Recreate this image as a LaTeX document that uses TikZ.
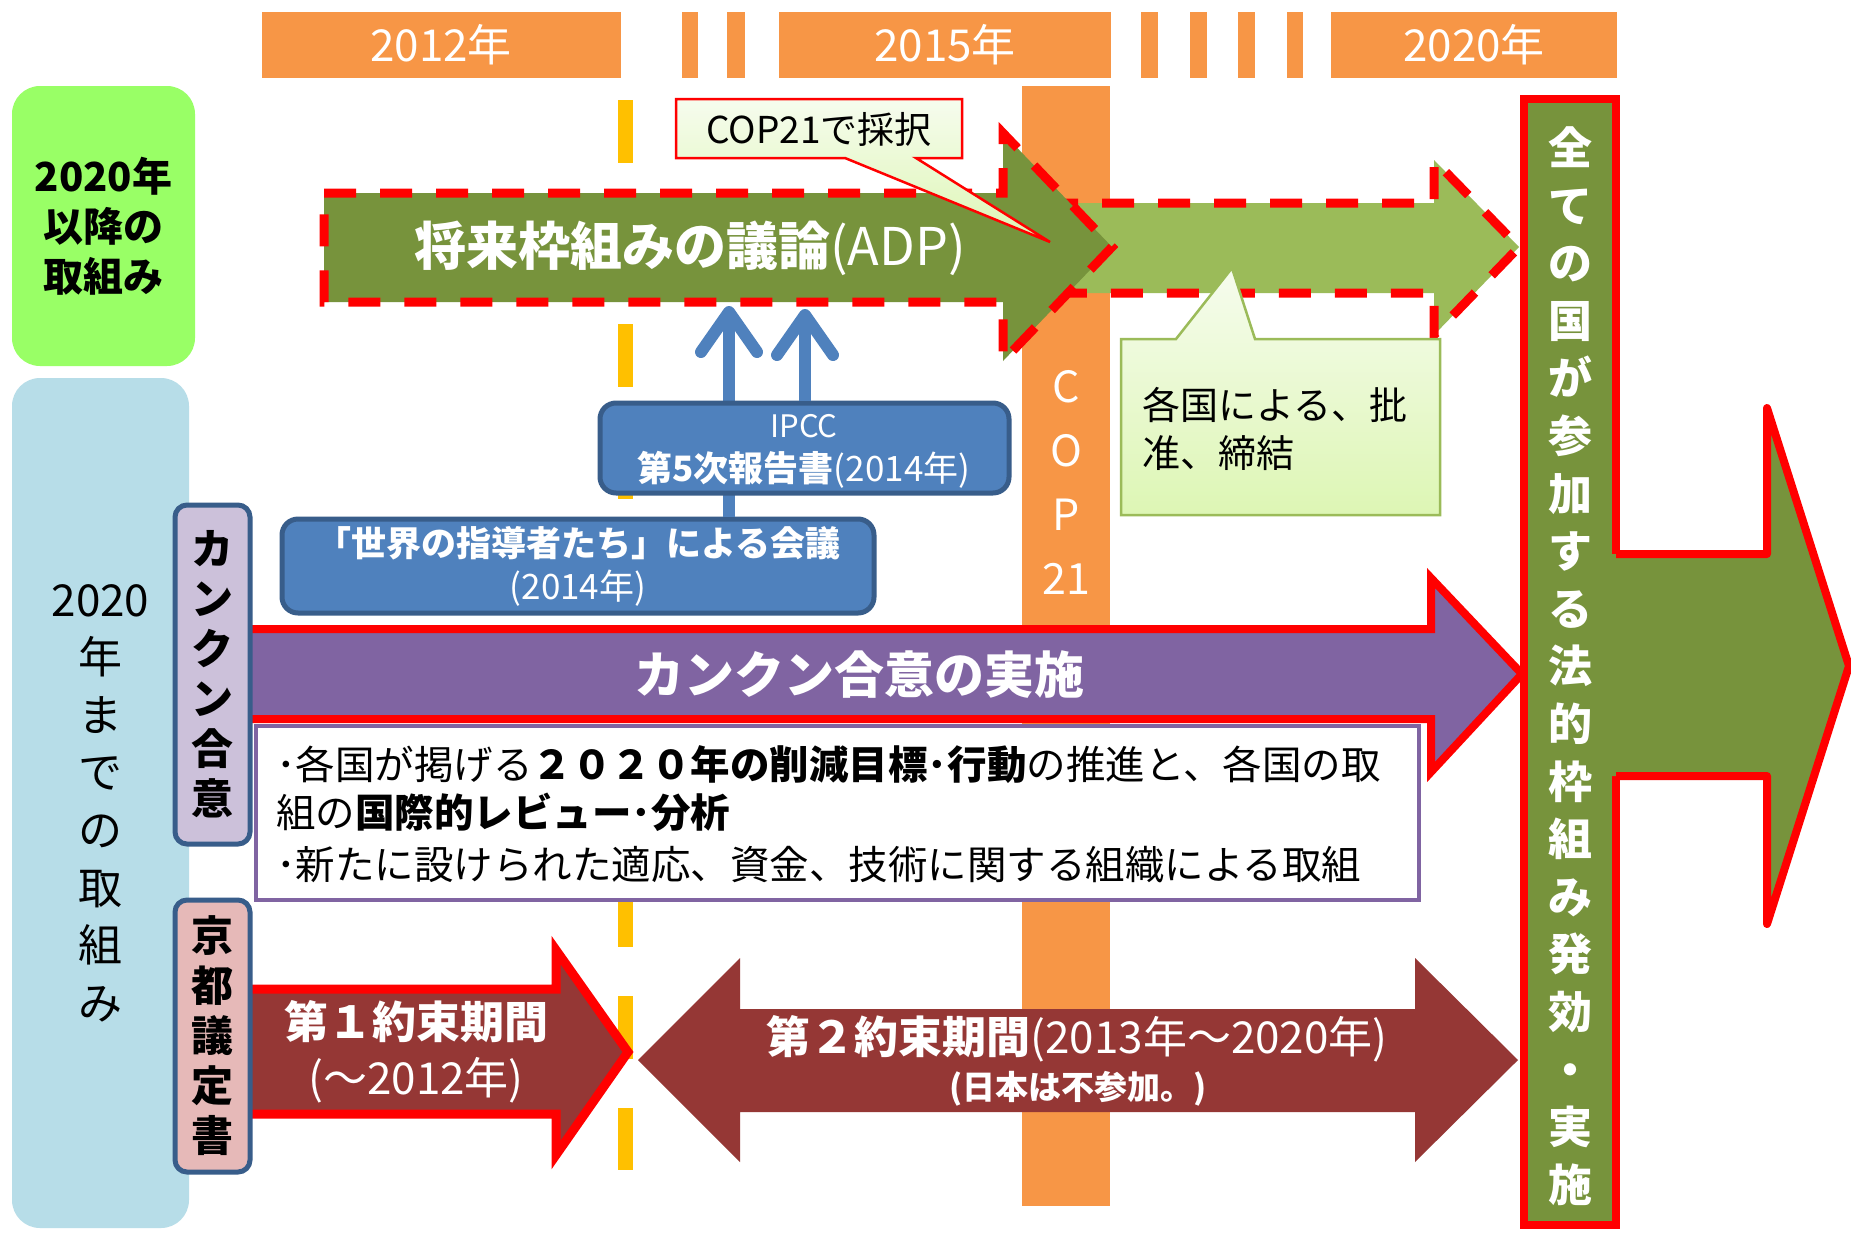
\documentclass[tikz,border=0pt]{standalone}
\usepackage{fontspec}
\setmainfont{Noto Sans CJK JP}
\usetikzlibrary{arrows.meta}
\newcommand\fsz[2]{\fontsize{#1}{#2}\selectfont}
\definecolor{orng}{HTML}{F79646}
\definecolor{ylw}{HTML}{FFC000}
\definecolor{lgrn}{HTML}{99FF66}
\definecolor{lblu}{HTML}{B7DDE8}
\definecolor{dgrn}{HTML}{77933C}
\definecolor{mgrn}{HTML}{9BBB59}
\definecolor{purp}{HTML}{8064A2}
\definecolor{brwn}{HTML}{953735}
\definecolor{bluf}{HTML}{4F81BD}
\definecolor{blud}{HTML}{385D8A}
\definecolor{lav}{HTML}{CCC1DA}
\definecolor{pnk}{HTML}{E6B9B8}
\definecolor{redc}{HTML}{FF0000}
\definecolor{callA}{HTML}{F6FCEE}
\definecolor{callB}{HTML}{DDF6B4}
\tikzset{
  yearbar/.style={fill=orng},
  yeartxt/.style={text=white, font=\fsz{44}{50}},
  sidebox/.style={rounded corners=28, inner sep=0pt},
  tagbox/.style={draw=blud, line width=5, rounded corners=12, minimum width=75, inner sep=0pt, align=center, font=\bfseries\fsz{42}{50}},
  bluebox/.style={draw=blud, fill=bluf, line width=5, rounded corners=16, inner sep=0pt, text=white, align=center},
  bluearr/.style={draw=bluf, line width=12, -{Straight Barb[length=40pt,width=56pt,round]}},
  redline/.style={draw=redc, line width=8, line join=miter},
  reddash/.style={draw=redc, line width=9, dash pattern=on 32pt off 24pt},
  wtxt/.style={text=white, inner sep=0pt},
  btxt/.style={text=black, inner sep=0pt},
}
\begin{document}
\begin{tikzpicture}[x=1pt,y=-1pt]
\useasboundingbox (0,0) rectangle (1851,1232);
\clip (0,0) rectangle (1851,1232);
\fill[white] (0,0) rectangle (1851,1232);

% timeline guides
\coordinate (ytop) at (625,100);
\coordinate (ybot) at (625,1170);
\draw[ylw, line width=15, dash pattern=on 63pt off 49pt] (ytop) -- (ybot);
\fill[orng] (1022,86) rectangle (1110,1206);

% year bars
\fill[yearbar] (262,12) rectangle (621,78);
\fill[yearbar] (682,12) rectangle (698,78);
\fill[yearbar] (727,12) rectangle (745,78);
\fill[yearbar] (779,12) rectangle (1111,78);
\fill[yearbar] (1141,12) rectangle (1158,78);
\fill[yearbar] (1190,12) rectangle (1207,78);
\fill[yearbar] (1238,12) rectangle (1255,78);
\fill[yearbar] (1287,12) rectangle (1303,78);
\fill[yearbar] (1331,12) rectangle (1617,78);
\node[yeartxt] (y2012) at (441,45) {2012年};
\node[yeartxt] (y2015) at (945,45) {2015年};
\node[yeartxt] (y2020) at (1474,45) {2020年};

% left category boxes
\node[sidebox, fill=lgrn, minimum width=183, minimum height=280, align=center, font=\bfseries\fsz{40}{50}] (post) at (103.5,226) {2020年\\以降の\\取組み};
\node[sidebox, fill=lblu, minimum width=177, minimum height=850, align=center, font=\fsz{44}{57.6}] (pre) at (100.5,803) {2020\\年\\ま\\で\\の\\取\\組\\み};

% ratification arrow (light green)
\fill[mgrn] (990,203) -- (1434,203) -- (1434,160) -- (1519,247) -- (1434,335) -- (1434,293) -- (990,293) -- cycle;
\draw[reddash] (990,203) -- (1434,203) -- (1434,160) -- (1519,247) -- (1434,335) -- (1434,293) -- (990,293);

% ADP arrow (dark green)
\fill[dgrn] (324,193) -- (1003,193) -- (1003,133) -- (1112,247) -- (1003,361) -- (1003,302) -- (324,302) -- cycle;
\draw[reddash] (324,193) -- (1003,193) -- (1003,133) -- (1112,247) -- (1003,361) -- (1003,302) -- (324,302) -- cycle;
\node[wtxt, font=\fsz{52}{60}] (adp) at (690,248) {{\bfseries 将来枠組みの議論}(ADP)};
\coordinate (adpA) at (729,306);
\coordinate (adpB) at (805,309);

% callout COP21
\draw[redc, line width=2.5, top color=callA, bottom color=callB]
  (676,99) -- (962,99) -- (962,158) -- (916,158) -- (1050,242) -- (845,158) -- (676,158) -- cycle;
\node[btxt, font=\fsz{37}{44}] (cop21call) at (819,129) {COP21で採択};

% callout ratification
\draw[mgrn, line width=2.5, top color=callA, bottom color=callB]
  (1121,339) -- (1176,339) -- (1232,268) -- (1255,339) -- (1440,339) -- (1440,515) -- (1121,515) -- cycle;
\node[btxt, anchor=west, align=left, font=\fsz{38}{48}] (ratify) at (1142,429) {各国による、批\\准、締結};

% COP21 vertical label
\node[wtxt, align=center, font=\fsz{43}{64}] (cop21) at (1066,482) {C\\O\\P\\21};

% blue boxes and arrows
\node[bluebox, minimum width=592, minimum height=94, font=\bfseries\fsz{35}{43}] (sekai) at (578,566) {「世界の指導者たち」による会議\\{\mdseries (2014年)}};
\draw[bluearr] (sekai.north -| adpA) -- (adpA);
\node[bluebox, minimum width=409, minimum height=90] (ipcc) at (804.5,448) {};
\draw[bluearr] (ipcc.north -| adpB) -- (adpB);
\node[wtxt, font=\fsz{31}{36}] (ipcc1) at (804,426) {IPCC};
\node[wtxt, font=\fsz{35}{40}] (ipcc2) at (804,470) {{\bfseries 第5次報告書}(2014年)};

% Cancun implementation arrow
\filldraw[redline, fill=purp] (240,629) -- (1431,629) -- (1431,578) -- (1522,674) -- (1431,772) -- (1431,719) -- (240,719) -- cycle;
\node[wtxt, font=\bfseries\fsz{50}{58}] (cancunimpl) at (859,675) {カンクン合意の実施};

% description box
\node[draw=purp, line width=4, fill=white, minimum width=1163, minimum height=174, inner sep=0pt] (desc) at (837.5,813) {};
\node[btxt, anchor=west, font=\fsz{39.5}{46}] (d1) at (276,765) {･各国が掲げる{\bfseries ２０２０年の削減目標･行動}の推進と、各国の取};
\node[btxt, anchor=west, font=\fsz{39.5}{46}] (d2) at (276,812) {組の{\bfseries 国際的レビュー･分析}};
\node[btxt, anchor=west, font=\fsz{39.5}{46}] (d3) at (276,865) {･新たに設けられた適応、資金、技術に関する組織による取組};

% Kyoto commitment periods
\filldraw[redline, line width=9, fill=brwn] (240,989) -- (556,989) -- (556,950) -- (628,1052) -- (556,1155) -- (556,1114) -- (240,1114) -- cycle;
\node[wtxt, font=\bfseries\fsz{44}{50}] (cp1) at (416,1022) {第１約束期間};
\node[wtxt, font=\fsz{44}{50}] (cp1y) at (416,1080) {(～2012年)};
\fill[brwn] (638,1060) -- (740,958) -- (740,1009) -- (1415,1009) -- (1415,958) -- (1518,1060) -- (1415,1162) -- (1415,1112) -- (740,1112) -- (740,1162) -- cycle;
\node[wtxt, font=\fsz{44}{50}] (cp2) at (1077,1039) {{\bfseries 第２約束期間}(2013年～2020年)};
\node[wtxt, font=\bfseries\fsz{33}{40}] (cp2n) at (1078,1089) {(日本は不参加。)};

% tag boxes
\node[tagbox, fill=lav, minimum height=339] (cancun) at (212.5,674.5) {カ\\ン\\ク\\ン\\合\\意};
\node[tagbox, fill=pnk, minimum height=272, font=\bfseries\fsz{42}{50}] (kyoto) at (212.5,1036) {京\\都\\議\\定\\書};

% final framework box and arrow
\filldraw[redline, fill=dgrn] (1524,99) rectangle (1616,1225);
\fill[dgrn] (1610,554) -- (1767,554) -- (1767,408) -- (1849,666) -- (1767,924) -- (1767,776) -- (1610,776) -- cycle;
\draw[redline, line join=round] (1616,554) -- (1767,554) -- (1767,408) -- (1849,666) -- (1767,924) -- (1767,776) -- (1616,776);
\node[wtxt, align=center, font=\bfseries\fsz{44}{57.6}] (final) at (1570,666) {全\\て\\の\\国\\が\\参\\加\\す\\る\\法\\的\\枠\\組\\み\\発\\効\\・\\実\\施};
\end{tikzpicture}
\end{document}
